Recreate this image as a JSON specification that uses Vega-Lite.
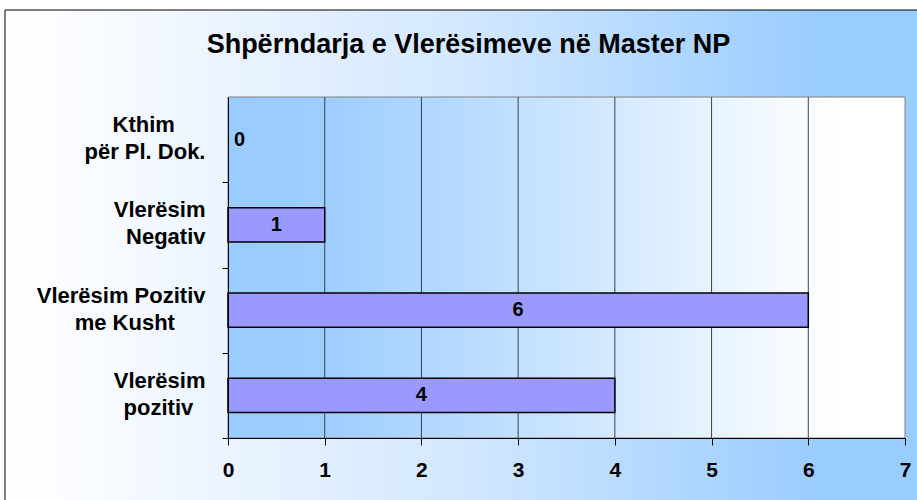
{
  "$schema": "https://vega.github.io/schema/vega-lite/v6.json",
  "width": 677,
  "height": 341,
  "autosize": {"type": "none"},
  "padding": {"left": 228, "top": 97, "right": 12, "bottom": 62},
  "background": "white",
  "title": {
    "text": "Shpërndarja e Vlerësimeve në Master NP",
    "font": "Liberation Sans",
    "fontSize": 27,
    "fontWeight": "bold",
    "color": "black",
    "anchor": "middle",
    "frame": "group",
    "dx": -98,
    "baseline": "alphabetic",
    "offset": -70
  },
  "datasets": {
    "grades": [
      {"kategoria": "Kthim për Pl. Dok.", "nr": 0},
      {"kategoria": "Vlerësim Negativ", "nr": 1},
      {"kategoria": "Vlerësim Pozitiv me Kusht", "nr": 6},
      {"kategoria": "Vlerësim pozitiv", "nr": 4}
    ],
    "gridlines": [{"v": 1}, {"v": 2}, {"v": 3}, {"v": 4}, {"v": 5}, {"v": 6}],
    "panel": [{"id": 1}]
  },
  "layer": [
    {
      "data": {"name": "panel"},
      "mark": {
        "type": "rect",
        "stroke": "black",
        "strokeWidth": 1,
        "fill": {
          "gradient": "linear",
          "x1": 0, "y1": 0, "x2": 1, "y2": 0,
          "stops": [
            {"offset": 0, "color": "#FFFFFF"},
            {"offset": 0.1, "color": "#F8FBFF"},
            {"offset": 0.5, "color": "#D2E7FF"},
            {"offset": 0.88, "color": "#99CCFF"},
            {"offset": 1, "color": "#99CCFF"}
          ]
        }
      },
      "encoding": {
        "x": {"datum": -2.3058, "type": "quantitative", "scale": {"domain": [0, 7], "nice": false}},
        "x2": {"datum": 7.3},
        "y": {"datum": 1.2551, "type": "quantitative", "scale": {"domain": [0, 1], "nice": false}, "axis": null},
        "y2": {"datum": -0.3}
      }
    },
    {
      "data": {"name": "panel"},
      "mark": {
        "type": "rect",
        "stroke": "#808080",
        "strokeWidth": 1,
        "fill": {
          "gradient": "linear",
          "x1": 0, "y1": 0, "x2": 1, "y2": 0,
          "stops": [
            {"offset": 0, "color": "#99CCFF"},
            {"offset": 0.15, "color": "#9ECEFF"},
            {"offset": 0.9, "color": "#FFFFFF"},
            {"offset": 1, "color": "#FFFFFF"}
          ]
        }
      },
      "encoding": {
        "x": {"datum": 0, "type": "quantitative", "scale": {"domain": [0, 7], "nice": false}},
        "x2": {"datum": 7}
      }
    },
    {
      "data": {"name": "gridlines"},
      "mark": {"type": "rule", "color": "#404040", "strokeWidth": 1},
      "encoding": {
        "x": {"field": "v", "type": "quantitative", "scale": {"domain": [0, 7], "nice": false}}
      }
    },
    {
      "data": {"name": "grades"},
      "encoding": {
        "y": {
          "field": "kategoria",
          "type": "nominal",
          "sort": null,
          "scale": {
            "domain": ["Kthim për Pl. Dok.", "Vlerësim Negativ", "Vlerësim Pozitiv me Kusht", "Vlerësim pozitiv"],
            "paddingInner": 0.6,
            "paddingOuter": 0.3
          },
          "axis": {
            "orient": "left",
            "title": null,
            "zindex": 1,
            "domainColor": "black",
            "domainWidth": 1,
            "tickColor": "black",
            "tickSize": 6,
            "bandPosition": 1,
            "tickOffset": 25.6,
            "labelOffset": -40.6,
            "labelFont": "Liberation Sans",
            "labelFontSize": 22,
            "labelFontWeight": "bold",
            "labelColor": "black",
            "labelAlign": "right",
            "labelBaseline": "middle",
            "labelLineHeight": 27,
            "labelLimit": 400,
            "labelPadding": 17,
            "labelExpr": "datum.value == 'Kthim për Pl. Dok.' ? ['Kthim\u00a0\u00a0\u00a0\u00a0\u00a0\u200b', 'për Pl. Dok.'] : datum.value == 'Vlerësim Pozitiv me Kusht' ? ['Vlerësim Pozitiv', 'me Kusht\u00a0\u00a0\u00a0\u00a0\u00a0\u200b'] : datum.value == 'Vlerësim pozitiv' ? ['Vlerësim', 'pozitiv\u00a0\u00a0\u200b'] : datum.value == 'Vlerësim Negativ' ? ['Vlerësim', 'Negativ'] : ''"
          }
        }
      },
      "layer": [
        {
          "transform": [{"filter": "datum.nr > 0"}],
          "mark": {"type": "bar", "fill": "#9999FF", "stroke": "black", "strokeWidth": 1.5},
          "encoding": {
            "x": {
              "field": "nr",
              "type": "quantitative",
              "scale": {"domain": [0, 7], "nice": false},
              "axis": {
                "orient": "bottom",
                "title": null,
                "zindex": 1,
                "grid": false,
                "values": [0, 1, 2, 3, 4, 5, 6, 7],
                "format": "d",
                "domainColor": "black",
                "domainWidth": 1,
                "tickColor": "black",
                "tickSize": 7,
                "labelFont": "Liberation Sans",
                "labelFontSize": 21,
                "labelFontWeight": "bold",
                "labelColor": "black",
                "labelPadding": 14,
                "labelFlush": false,
                "labelOverlap": false
              }
            }
          }
        },
        {
          "transform": [{"filter": "datum.nr > 0"}, {"calculate": "datum.nr / 2", "as": "mid"}],
          "mark": {"type": "text", "font": "Liberation Sans", "fontSize": 20, "fontWeight": "bold", "color": "black", "align": "center", "baseline": "middle"},
          "encoding": {
            "x": {"field": "mid", "type": "quantitative", "scale": {"domain": [0, 7], "nice": false}},
            "text": {"field": "nr", "type": "quantitative"}
          }
        },
        {
          "transform": [{"filter": "datum.nr == 0"}],
          "mark": {"type": "text", "font": "Liberation Sans", "fontSize": 20, "fontWeight": "bold", "color": "black", "align": "left", "baseline": "middle", "dx": 6},
          "encoding": {
            "x": {"field": "nr", "type": "quantitative", "scale": {"domain": [0, 7], "nice": false}},
            "text": {"field": "nr", "type": "quantitative"}
          }
        }
      ]
    }
  ],
  "resolve": {"scale": {"y": "independent"}}
}
